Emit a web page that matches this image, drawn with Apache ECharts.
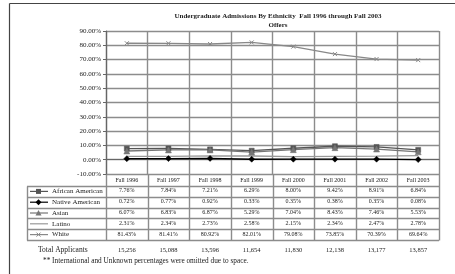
<!DOCTYPE html>
<html><head><meta charset="utf-8">
<script src="https://cdn.jsdelivr.net/npm/echarts@6/dist/echarts.min.js"></script>
<style>html,body{margin:0;padding:0;background:#fff}#c{width:455px;height:274px}</style>
</head><body><div id="c"></div>
<script>
const categories = ['Fall 1996','Fall 1997','Fall 1998','Fall 1999','Fall 2000','Fall 2001','Fall 2002','Fall 2003'];
const africanAmerican = [7.76, 7.84, 7.21, 6.29, 8.00, 9.42, 8.91, 6.84];
const nativeAmerican  = [0.72, 0.77, 0.92, 0.33, 0.35, 0.38, 0.35, 0.08];
const asian           = [6.07, 6.83, 6.87, 5.29, 7.04, 8.43, 7.46, 5.53];
const latino          = [2.31, 2.34, 2.73, 2.58, 2.15, 2.34, 2.47, 2.78];
const white           = [81.43, 81.41, 80.92, 82.01, 79.08, 73.85, 70.39, 69.64];
const totalApplicants = ['15,256','15,088','13,596','11,654','11,830','12,138','13,177','13,857'];
const yTicks = {min: -10, max: 90, interval: 10};
const titleText = 'Undergraduate Admissions By Ethnicity  Fall 1996 through Fall 2003';
const subText = 'Offers';
const footnote = '** International and Unknown percentages were omitted due to space.';

const FONT = 'Liberation Serif';
const seriesDefs = [
  {name:'African American', data: africanAmerican, color:'#555', symbol:'rect', size:5},
  {name:'Native American', data: nativeAmerican, color:'#000', symbol:'diamond', size:6},
  {name:'Asian', data: asian, color:'#777', symbol:'triangle', size:6},
  {name:'Latino', data: latino, color:'#999', symbol:'none', size:0},
  {name:'White', data: white, color:'#888', symbol:'path://M0,0L10,10M10,0L0,10', size:4}
];

const GRID = {left:106, right:16, top:31, bottom:100};
const plotBottom = 274 - GRID.bottom;
const headerH = 12, rowH = 10.8;
const rowTop = i => plotBottom + headerH + i*rowH;
const gridLine = {color:'#8c8c8c', width:1.4};

const xAxes = [{
  type:'category', data: categories, boundaryGap:true, gridIndex:0, position:'bottom',
  axisLine:{show:true, lineStyle:{color:'#666', width:1.2}}, axisTick:{show:false},
  axisLabel:{fontFamily:FONT, fontSize:6, color:'#222', margin:3, interval:0},
  splitLine:{show:true, interval:0, lineStyle:gridLine}
}];
const rowData = seriesDefs.map(s => s.data.map(v => v.toFixed(2) + '%'));
rowData.forEach((vals, i) => {
  xAxes.push({
    type:'category', data: categories, boundaryGap:true, gridIndex:0, position:'bottom',
    offset: headerH + i*rowH + rowH/2 - 3.5,
    axisLine:{show:false}, axisTick:{show:false}, splitLine:{show:false},
    axisLabel:{fontFamily:FONT, fontSize:6, color:'#222', margin:0, interval:0,
      formatter:(v, idx) => vals[idx]}
  });
});
xAxes.push({
  type:'category', data: categories, boundaryGap:true, gridIndex:0, position:'bottom',
  offset: 250 - plotBottom - 3.5,
  axisLine:{show:false}, axisTick:{show:false}, splitLine:{show:false},
  axisLabel:{fontFamily:FONT, fontSize:6.5, color:'#222', margin:0, interval:0,
    formatter:(v, idx) => totalApplicants[idx]}
});

const chart = echarts.init(document.getElementById('c'), null, {renderer:'canvas'});
chart.setOption({
  animation:false,
  backgroundColor:'#fff',
  title:{text: titleText + '\n' + subText, left:273, top:7, textAlign:'center',
    textStyle:{fontFamily:FONT, fontSize:7, fontWeight:'bold', color:'#222', lineHeight:9}},
  grid: GRID,
  xAxis: xAxes,
  yAxis:{type:'value', min:yTicks.min, max:yTicks.max, interval:yTicks.interval,
    axisLine:{show:true, lineStyle:{color:'#666', width:1.2}},
    axisTick:{show:true, length:3, lineStyle:{color:'#666'}},
    axisLabel:{fontFamily:FONT, fontSize:7, color:'#222', margin:5,
      formatter: v => v.toFixed(2) + '%'},
    splitLine:{show:true, lineStyle:gridLine}},
  series: seriesDefs.map(s => ({
    name:s.name, type:'line', data:s.data, xAxisIndex:0,
    symbol:s.symbol, symbolSize:s.size, showSymbol: s.symbol !== 'none',
    lineStyle:{color:s.color, width:1.3},
    itemStyle:{color:s.color, borderColor:s.color, borderWidth: s.name==='White'?1:0.5}
  }))
});

function drawTable(){
  const g = [];
  const c0 = chart.convertToPixel({xAxisIndex:0}, categories[0]);
  const c1 = chart.convertToPixel({xAxisIndex:0}, categories[1]);
  const colW = c1 - c0;
  const gridLeft = c0 - colW/2;
  const gridRight = gridLeft + colW*categories.length;
  const tableLeft = 27;
  const lineStyle = {stroke:'#8c8c8c', lineWidth:1.4};
  for (let i = 0; i <= seriesDefs.length; i++) {
    const y = Math.round(rowTop(i)) + 0.5;
    g.push({type:'line', shape:{x1:tableLeft, y1:y, x2:gridRight, y2:y}, style:lineStyle, silent:true});
  }
  const tb = Math.round(rowTop(seriesDefs.length)) + 0.5;
  for (let k = 0; k <= categories.length; k++) {
    const x = Math.round(gridLeft + k*colW) + 0.5;
    g.push({type:'line', shape:{x1:x, y1:plotBottom, x2:x, y2:tb}, style:lineStyle, silent:true});
  }
  g.push({type:'line', shape:{x1:tableLeft+0.5, y1:Math.round(rowTop(0))+0.5, x2:tableLeft+0.5, y2:tb}, style:lineStyle, silent:true});
  seriesDefs.forEach((s, i) => {
    const cy = rowTop(i) + rowH/2;
    const mx = 38.5;
    g.push({type:'line', shape:{x1:30, y1:cy, x2:48, y2:cy}, style:{stroke:s.color, lineWidth:1.2}, silent:true});
    if (s.symbol === 'rect') g.push({type:'rect', shape:{x:mx-2.5, y:cy-2.5, width:5, height:5}, style:{fill:s.color}});
    else if (s.symbol === 'diamond') g.push({type:'polygon', shape:{points:[[mx,cy-3],[mx+3,cy],[mx,cy+3],[mx-3,cy]]}, style:{fill:s.color}});
    else if (s.symbol === 'triangle') g.push({type:'polygon', shape:{points:[[mx,cy-3],[mx+3,cy+2.5],[mx-3,cy+2.5]]}, style:{fill:s.color}});
    else if (s.symbol !== 'none') g.push({type:'polyline', shape:{points:[[mx-2,cy-2],[mx+2,cy+2]]}, style:{stroke:s.color, lineWidth:1}},
                {type:'polyline', shape:{points:[[mx+2,cy-2],[mx-2,cy+2]]}, style:{stroke:s.color, lineWidth:1}});
    g.push({type:'text', x:52, y:cy, style:{text:s.name, fontFamily:FONT, fontSize:7, fill:'#222', verticalAlign:'middle'}, silent:true});
  });
  g.push({type:'text', x:38, y:250, style:{text:'Total Applicants', fontFamily:FONT, fontSize:7.5, fill:'#222', verticalAlign:'middle'}});
  g.push({type:'text', x:43, y:261, style:{text:footnote, fontFamily:FONT, fontSize:7.3, fill:'#222', verticalAlign:'middle'}});
  g.push({type:'line', shape:{x1:9.5, y1:3.5, x2:455, y2:3.5}, style:{stroke:'#444', lineWidth:1.2}});
  g.push({type:'line', shape:{x1:9.5, y1:3.5, x2:9.5, y2:274}, style:{stroke:'#444', lineWidth:1.2}});
  chart.setOption({graphic: g});
}
drawTable();
</script></body></html>
